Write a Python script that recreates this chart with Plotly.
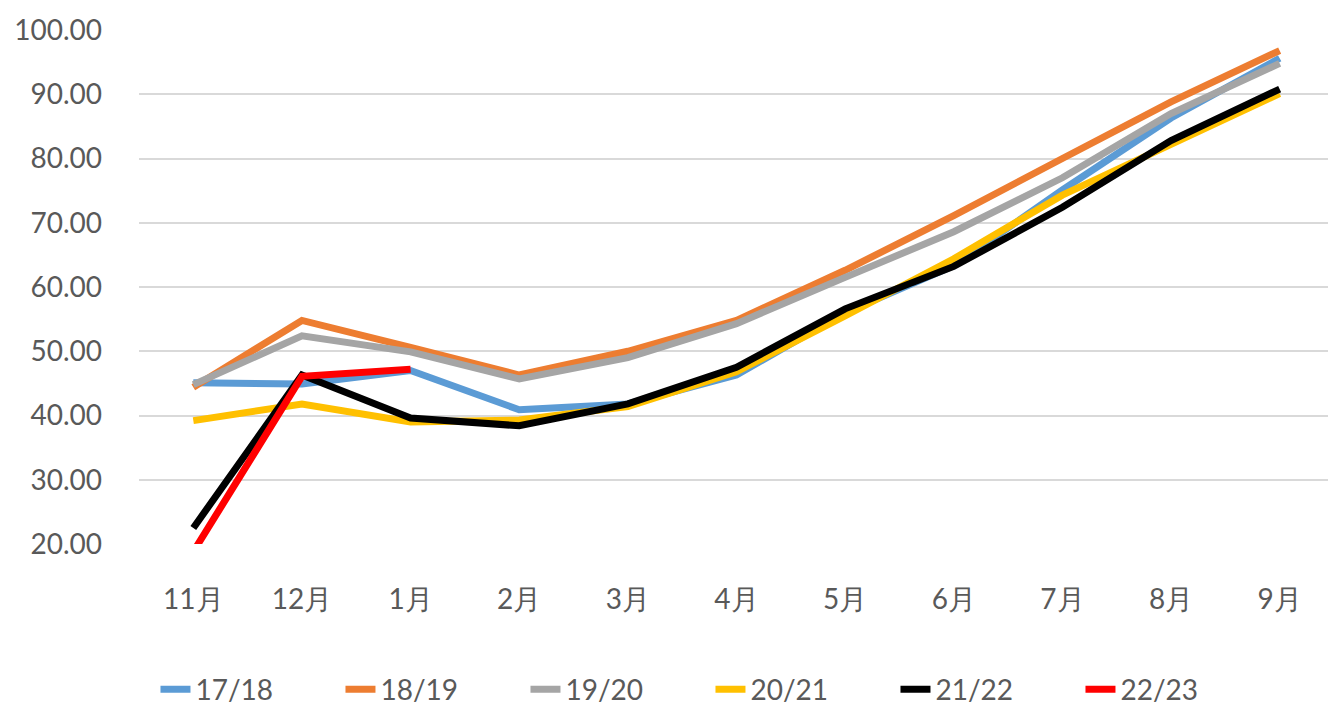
import plotly.graph_objects as go

months = ["11月", "12月", "1月", "2月", "3月", "4月", "5月", "6月", "7月", "8月", "9月"]

s1718 = [45.1, 44.9, 47.0, 40.9, 41.8, 46.3, 56.0, 63.3, 75.1, 86.3, 95.6]
s1819 = [44.4, 54.8, 50.6, 46.3, 50.0, 54.8, 62.6, 71.1, 80.0, 88.8, 96.8]
s1920 = [44.8, 52.4, 49.9, 45.7, 49.0, 54.3, 61.5, 68.6, 77.0, 87.0, 94.8]
s2021 = [39.2, 41.8, 39.0, 39.3, 41.4, 46.8, 55.5, 64.4, 74.3, 82.1, 90.1]
s2122 = [22.5, 46.3, 39.6, 38.4, 41.8, 47.5, 56.6, 63.2, 72.4, 82.8, 90.8]
s2223 = [18.8, 46.1, 47.2]

series = [
    ("17/18", s1718, "#5b9bd5"),
    ("18/19", s1819, "#ed7d31"),
    ("19/20", s1920, "#a5a5a5"),
    ("20/21", s2021, "#ffc000"),
    ("21/22", s2122, "#000000"),
    ("22/23", s2223, "#ff0000"),
]

yticks = [20, 30, 40, 50, 60, 70, 80, 90, 100]

FONT = "Lato, 'Liberation Sans', sans-serif"

fig = go.Figure()
for name, vals, color in series:
    fig.add_trace(go.Scatter(
        x=months[:len(vals)], y=vals, name=name, mode="lines",
        line=dict(color=color, width=7),
    ))

fig.update_layout(
    width=1328, height=708,
    margin=dict(l=139, r=0, t=30, b=164, autoexpand=False),
    paper_bgcolor="white", plot_bgcolor="white",
    font=dict(family=FONT, size=28, color="#595959"),
    showlegend=True,
    legend=dict(
        orientation="h", xref="container", yref="container",
        x=0.535, xanchor="center", y=0.026, yanchor="middle",
        font=dict(size=28, color="#595959"),
        entrywidth=140, entrywidthmode="pixels",
        itemwidth=30,
    ),
)
fig.update_xaxes(
    type="category", categoryorder="array", categoryarray=months,
    range=[-0.5, 10.445], showgrid=False, zeroline=False, showline=False,
    ticks="", ticklabelstandoff=36,
    tickfont=dict(size=28, color="#595959", family=FONT),
)
fig.update_yaxes(
    range=[20, 100], tickvals=yticks, ticktext=[f"{v:.2f}" for v in yticks],
    showgrid=True, gridcolor="#d9d9d9", gridwidth=2, zeroline=False,
    showline=False, ticks="", ticklabelstandoff=36,
    tickfont=dict(size=28, color="#595959", family=FONT),
)

fig.write_html(
    "out.html",
    config={"displayModeBar": False},
    post_script="document.body.style.margin='0';document.body.style.overflow='hidden';",
)
